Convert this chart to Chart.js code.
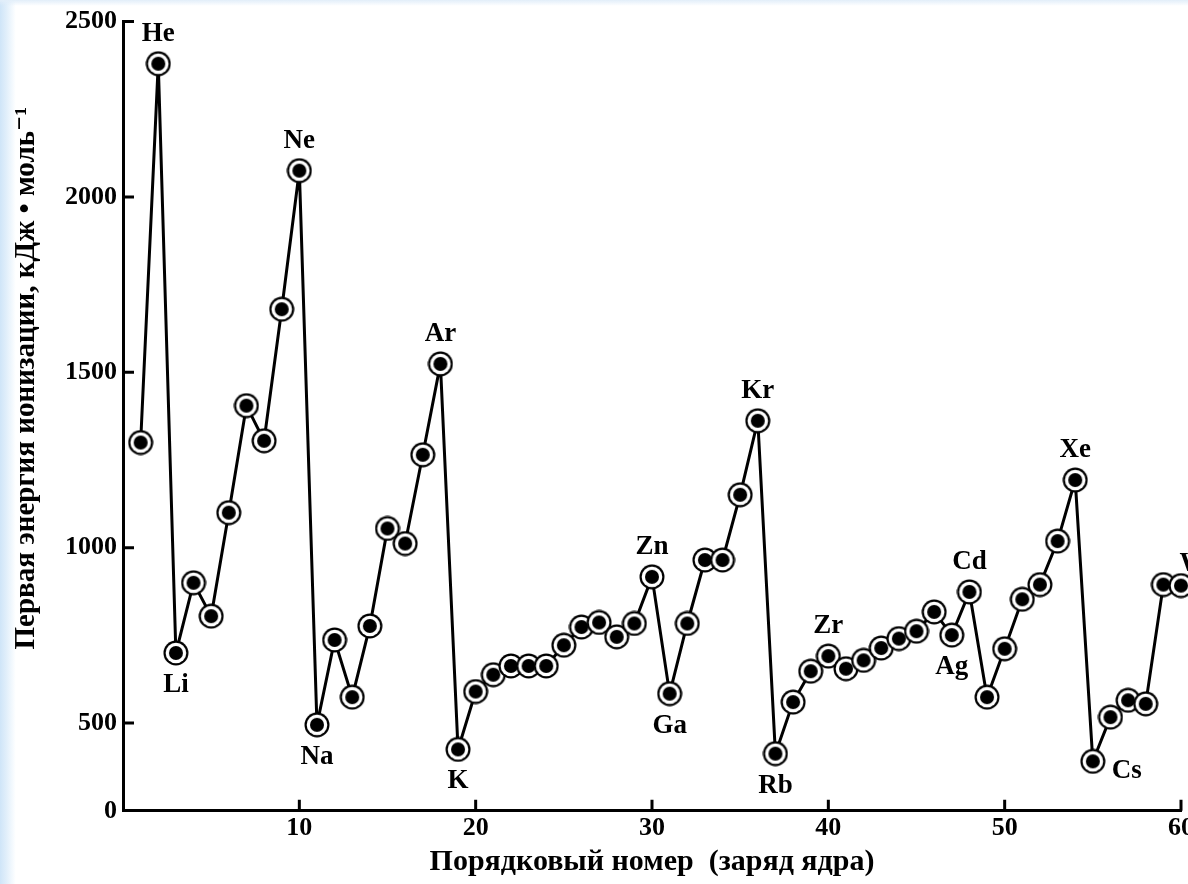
<!DOCTYPE html>
<html>
<head>
<meta charset="utf-8">
<script src="https://cdn.jsdelivr.net/npm/chart.js@4.4.1/dist/chart.umd.min.js"></script>
<style>
  html, body { margin: 0; padding: 0; background: #fff; overflow: hidden; }
  #wrap { position: absolute; left: 0; top: 0; width: 1196px; height: 884px; }
  #edgeLeft { position: absolute; left: 0; top: 0; width: 16px; height: 884px;
    background: linear-gradient(to right, #cfe5f8 0%, #e3f0fb 45%, rgba(255,255,255,0) 100%); }
  #edgeTop { position: absolute; left: 0; top: 0; width: 1188px; height: 6px;
    background: linear-gradient(to bottom, #e2eef9, rgba(255,255,255,0)); }
</style>
</head>
<body>
<div id="wrap"><canvas id="chart" width="1196" height="884"></canvas></div>
<div id="edgeLeft"></div>
<div id="edgeTop"></div>
<script>
// атомный номер 1..60 (последние точки — как на рисунке)
const atomicNumbers = [
  1, 2, 3, 4, 5, 6, 7, 8, 9, 10,
  11, 12, 13, 14, 15, 16, 17, 18, 19, 20,
  21, 22, 23, 24, 25, 26, 27, 28, 29, 30,
  31, 32, 33, 34, 35, 36, 37, 38, 39, 40,
  41, 42, 43, 44, 45, 46, 47, 48, 49, 50,
  51, 52, 53, 54, 55, 56, 57, 58, 59, 60
];

// первая энергия ионизации, кДж/моль
const ionizationEnergy = [
  1300, 2380, 700, 900, 805, 1100, 1405, 1305, 1680, 2075,
  495, 737, 574, 777, 1055, 1012, 1265, 1524, 425, 590,
  638, 663, 663, 663, 722, 774, 787, 746, 784, 917,
  584, 784, 965, 965, 1151, 1362, 413, 560, 648, 691,
  655, 679, 714, 741, 762, 817, 751, 874, 574, 712,
  853, 895, 1019, 1193, 391, 517, 565, 555, 895, 892
];

// подписи элементов: [номер, символ, где]
const elementLabels = [
  [2, 'He', 'above'], [10, 'Ne', 'above'], [18, 'Ar', 'above'],
  [36, 'Kr', 'above'], [54, 'Xe', 'above'], [30, 'Zn', 'above'],
  [48, 'Cd', 'above'], [40, 'Zr', 'above'], [60, 'W', 'aboveRight'],
  [3, 'Li', 'below'], [11, 'Na', 'below'], [19, 'K', 'below'],
  [31, 'Ga', 'below'], [37, 'Rb', 'below'], [47, 'Ag', 'below'],
  [55, 'Cs', 'right']
];

const xTickValues = [10, 20, 30, 40, 50, 60];
const yTickValues = [250, 500, 1000, 1500, 2000, 2500];
const yTickLabels = ['0', '500', '1000', '1500', '2000', '2500'];

const xTitle = 'Порядковый номер  (заряд ядра)';
const yTitle = 'Первая энергия ионизации, кДж • моль⁻¹';

const serif = '"Liberation Serif", "DejaVu Serif", serif';

function makeMarker() {
  const c = document.createElement('canvas');
  c.width = 26; c.height = 26;
  const g = c.getContext('2d');
  g.fillStyle = '#000';
  g.beginPath(); g.arc(13, 13, 12.5, 0, Math.PI * 2); g.fill();
  g.fillStyle = '#fff';
  g.beginPath(); g.arc(13, 13, 10.3, 0, Math.PI * 2); g.fill();
  g.fillStyle = '#000';
  g.beginPath(); g.arc(13, 13, 7, 0, Math.PI * 2); g.fill();
  return c;
}

const placeOffsets = {
  above: [0, -30],
  aboveRight: [12, -22],
  below: [0, 32],
  right: [34, 10]
};

// засечки внутрь, подписи элементов, подпись оси Y
const extras = {
  id: 'extras',
  afterDatasetsDraw(chart) {
    const ctx = chart.ctx;
    const xs = chart.scales.x, ys = chart.scales.y;
    const area = chart.chartArea;
    ctx.save();
    ctx.strokeStyle = '#000';
    ctx.lineWidth = 3;
    ctx.beginPath();
    xTickValues.forEach(v => {
      const px = xs.getPixelForValue(v);
      ctx.moveTo(px, area.bottom);
      ctx.lineTo(px, area.bottom - 11);
    });
    yTickValues.slice(1).forEach(v => {
      const py = ys.getPixelForValue(v);
      ctx.moveTo(area.left, py);
      ctx.lineTo(area.left + 11, py);
    });
    ctx.stroke();

    const meta = chart.getDatasetMeta(0);
    ctx.fillStyle = '#000';
    ctx.font = 'bold 27px ' + serif;
    ctx.textAlign = 'center';
    ctx.textBaseline = 'middle';
    elementLabels.forEach(([n, text, place]) => {
      const pt = meta.data[atomicNumbers.indexOf(n)];
      const off = placeOffsets[place];
      ctx.fillText(text, pt.x + off[0], pt.y + off[1]);
    });

    ctx.translate(27, (area.top + area.bottom) / 2 - 38);
    ctx.rotate(-Math.PI / 2);
    ctx.font = 'bold 29px ' + serif;
    ctx.fillText(yTitle, 0, 0);
    ctx.restore();
  }
};

new Chart(document.getElementById('chart'), {
  type: 'line',
  data: {
    datasets: [{
      data: atomicNumbers.map((n, i) => ({ x: n, y: ionizationEnergy[i] })),
      borderColor: '#000',
      borderWidth: 3,
      tension: 0,
      pointStyle: makeMarker(),
      pointRadius: 12,
      clip: false
    }]
  },
  options: {
    responsive: false,
    animation: false,
    events: [],
    layout: { padding: { left: 59, top: 11, right: 14, bottom: 0 } },
    plugins: {
      legend: { display: false },
      tooltip: { enabled: false }
    },
    scales: {
      x: {
        type: 'linear',
        min: 0,
        max: 60,
        afterBuildTicks: s => { s.ticks = xTickValues.map(v => ({ value: v })); },
        ticks: {
          color: '#000',
          font: { family: serif, size: 26, weight: 'bold' },
          padding: 2,
          maxRotation: 0
        },
        grid: { display: false, drawTicks: false },
        border: { display: true, color: '#000', width: 3 },
        title: {
          display: true,
          text: xTitle,
          color: '#000',
          font: { family: serif, size: 30, weight: 'bold', lineHeight: 1.1 },
          padding: { top: 0, bottom: 5 }
        }
      },
      y: {
        type: 'linear',
        min: 250,
        max: 2500,
        afterBuildTicks: s => { s.ticks = yTickValues.map(v => ({ value: v })); },
        ticks: {
          color: '#000',
          font: { family: serif, size: 26, weight: 'bold' },
          padding: 6,
          callback: (v) => yTickLabels[yTickValues.indexOf(v)]
        },
        grid: { display: false, drawTicks: false },
        border: { display: true, color: '#000', width: 3 }
      }
    }
  },
  plugins: [extras]
});
</script>
</body>
</html>
